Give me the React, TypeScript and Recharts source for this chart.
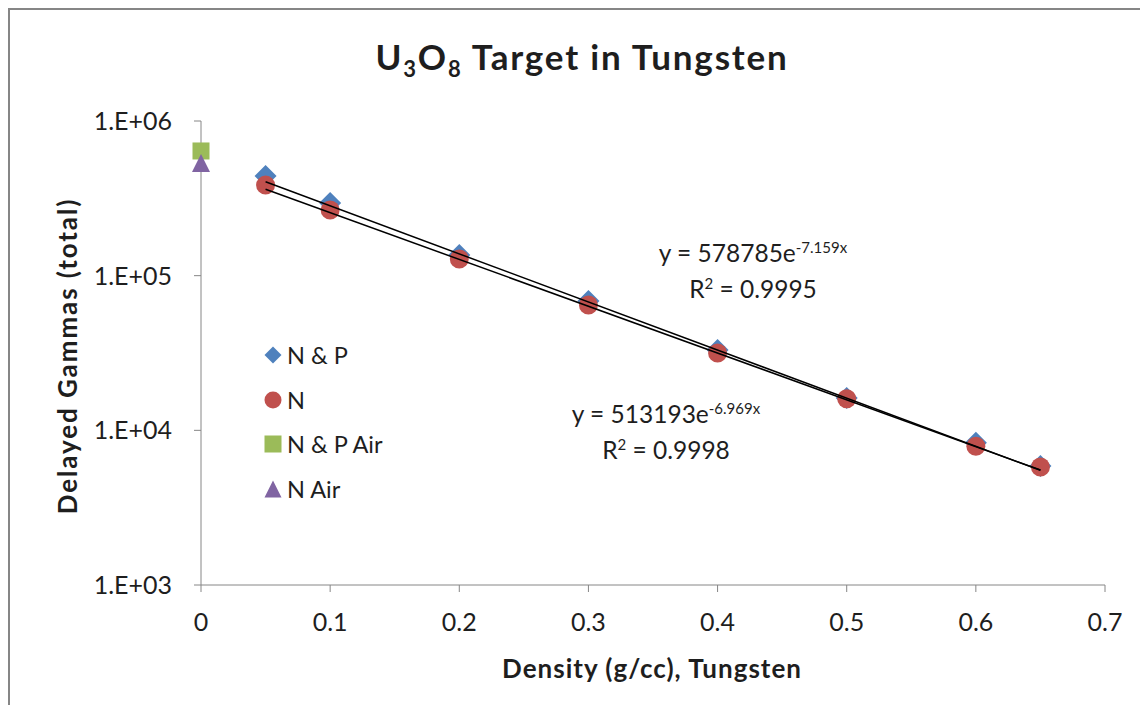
import { ScatterChart, Scatter, XAxis, YAxis, Legend } from "recharts";

// density (g/cc) of tungsten
const density = [0.05, 0.1, 0.2, 0.3, 0.4, 0.5, 0.6, 0.65];
const gammasNP = [441000, 295000, 136000, 68700, 33100, 16200, 8300, 5890];
const gammasN = [385000, 266000, 128000, 64600, 31600, 16000, 7900, 5800];

// measurements in air (density 0)
const airDensity = [0];
const gammasNPAir = [640000];
const gammasNAir = [535000];

// exponential trendline end points
const trendX = [0.05, 0.65];
const trendNP = [404600, 5516];
const trendN = [362200, 5534];

const xTicks = [0, 0.1, 0.2, 0.3, 0.4, 0.5, 0.6, 0.7];
const yTicks = [1000, 10000, 100000, 1000000];
const legendOrder = ["N & P", "N", "N & P Air", "N Air"];

const font = "Lato, 'Open Sans', sans-serif";
const axisColor = "#868686";
const textColor = "#1e1e1e";

const colors = {
  np: "#4F81BD",
  n: "#C0504D",
  npAir: "#9BBB59",
  nAir: "#8064A2",
};

const zip = (xs: number[], ys: number[]) => xs.map((x, i) => ({ x, y: ys[i] }));

const Diamond = ({ cx, cy, r = 11 }: any) => (
  <polygon
    points={`${cx},${cy - r} ${cx + r},${cy} ${cx},${cy + r} ${cx - r},${cy}`}
    fill={colors.np}
  />
);
const Circle = ({ cx, cy, r = 9.5 }: any) => <circle cx={cx} cy={cy} r={r} fill={colors.n} />;
const Square = ({ cx, cy, r = 8.5 }: any) => (
  <rect x={cx - r} y={cy - r} width={2 * r} height={2 * r} fill={colors.npAir} />
);
const Triangle = ({ cx, cy, r = 9 }: any) => (
  <polygon
    points={`${cx},${cy - r} ${cx + r},${cy + r} ${cx - r},${cy + r}`}
    fill={colors.nAir}
  />
);
const NoShape = () => <g />;

const legendShapes: Record<string, any> = {
  "N & P": Diamond,
  N: Circle,
  "N & P Air": Square,
  "N Air": Triangle,
};

function LegendBox({ payload }: any) {
  const items = (payload || [])
    .filter((p: any) => legendShapes[p.value])
    .sort((a: any, b: any) => legendOrder.indexOf(a.value) - legendOrder.indexOf(b.value));
  return (
    <div style={{ fontFamily: font, fontSize: 23.5, color: textColor, textAlign: "left" }}>
      {items.map((p: any) => {
        const Shape = legendShapes[p.value];
        return (
          <div key={p.value} style={{ display: "flex", alignItems: "center", height: 44.5 }}>
            <svg width={18} height={18} style={{ marginRight: 5 }}>
              <Shape cx={9} cy={9} r={8.5} />
            </svg>
            <span>{p.value}</span>
          </div>
        );
      })}
    </div>
  );
}

const eqStyle: any = {
  position: "absolute",
  transform: "translateX(-50%)",
  fontSize: 24.5,
  lineHeight: "31px",
  textAlign: "center",
  whiteSpace: "nowrap",
};

export default function App() {
  return (
    <div
      style={{
        position: "relative",
        width: 1138,
        height: 705,
        marginBottom: -10,
        borderTop: `2px solid ${axisColor}`,
        borderLeft: `2px solid ${axisColor}`,
        background: "#fff",
        fontFamily: font,
        color: textColor,
      }}
    >
      <div
        style={{
          position: "absolute",
          left: 572,
          top: 26,
          transform: "translateX(-50%)",
          fontSize: 35,
          letterSpacing: 1.8,
          fontWeight: 700,
          whiteSpace: "nowrap",
          lineHeight: "40px",
        }}
      >
        U<sub style={{ fontSize: 22, verticalAlign: -7 }}>3</sub>O
        <sub style={{ fontSize: 22, verticalAlign: -7 }}>8</sub> Target in Tungsten
      </div>

      <ScatterChart
        width={1138}
        height={705}
        margin={{ top: 111, right: 43, bottom: 50, left: 41 }}
      >
        <XAxis
          type="number"
          dataKey="x"
          domain={[0, 0.7]}
          ticks={xTicks}
          stroke={axisColor}
          tickSize={7}
          tickMargin={21}
          height={80}
          tick={{ fill: textColor, fontSize: 25, fontFamily: font }}
        />
        <YAxis
          type="number"
          dataKey="y"
          scale="log"
          domain={[1000, 1000000]}
          ticks={yTicks}
          stroke={axisColor}
          tickSize={7}
          tickMargin={22}
          width={150}
          tickFormatter={(v: number) => `1.E+0${Math.round(Math.log10(v))}`}
          tick={{ fill: textColor, fontSize: 25, fontFamily: font }}
        />
        <Legend
          layout="horizontal"
          verticalAlign="middle"
          align="center"
          wrapperStyle={{ left: 254, top: 323, width: "auto", height: "auto" }}
          content={LegendBox}
        />
        <Scatter name="N & P" data={zip(density, gammasNP)} shape={Diamond} isAnimationActive={false} />
        <Scatter name="N" data={zip(density, gammasN)} shape={Circle} isAnimationActive={false} />
        <Scatter name="N & P Air" data={zip(airDensity, gammasNPAir)} shape={Square} isAnimationActive={false} />
        <Scatter name="N Air" data={zip(airDensity, gammasNAir)} shape={Triangle} isAnimationActive={false} />
        <Scatter
          name="trend N & P"
          data={zip(trendX, trendNP)}
          shape={NoShape}
          line={{ stroke: "#000", strokeWidth: 1.5 }}
          legendType="none"
          isAnimationActive={false}
        />
        <Scatter
          name="trend N"
          data={zip(trendX, trendN)}
          shape={NoShape}
          line={{ stroke: "#000", strokeWidth: 1.5 }}
          legendType="none"
          isAnimationActive={false}
        />
      </ScatterChart>

      <div
        style={{
          position: "absolute",
          left: 57,
          top: 346,
          transform: "translate(-50%, -50%) rotate(-90deg)",
          fontSize: 26,
          letterSpacing: 1.9,
          fontWeight: 700,
          whiteSpace: "nowrap",
        }}
      >
        Delayed Gammas (total)
      </div>
      <div
        style={{
          position: "absolute",
          left: 642,
          top: 642,
          transform: "translateX(-50%)",
          fontSize: 26,
          letterSpacing: 1,
          fontWeight: 700,
          whiteSpace: "nowrap",
        }}
      >
        Density (g/cc), Tungsten
      </div>

      <div style={{ ...eqStyle, left: 743, top: 222 }}>
        <div>
          y = 578785e<sup style={{ fontSize: 15 }}>-7.159x</sup>
        </div>
        <div>
          R<sup style={{ fontSize: 15 }}>2</sup> = 0.9995
        </div>
      </div>
      <div style={{ ...eqStyle, left: 656, top: 383 }}>
        <div>
          y = 513193e<sup style={{ fontSize: 15 }}>-6.969x</sup>
        </div>
        <div>
          R<sup style={{ fontSize: 15 }}>2</sup> = 0.9998
        </div>
      </div>
    </div>
  );
}
